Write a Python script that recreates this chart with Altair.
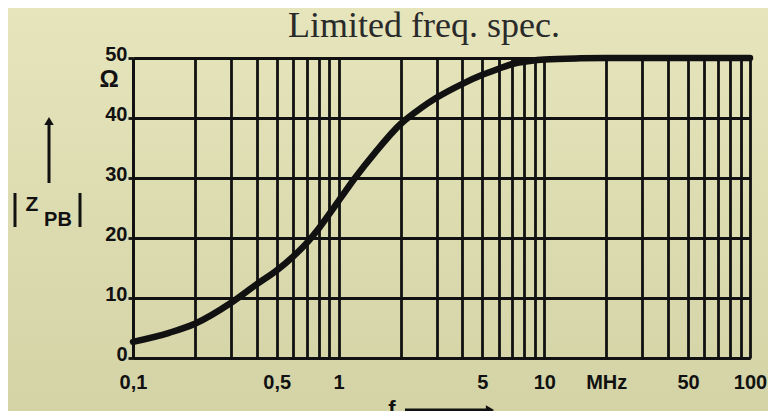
import altair as alt
import pandas as pd

# ---- data ----
freq_mhz = [0.1, 0.15, 0.2, 0.3, 0.4, 0.5, 0.6, 0.7, 0.8, 1.0, 1.2, 1.5, 2.0, 2.5, 3.0,
            4.0, 5.0, 6.0, 7.0, 8.5, 10, 15, 20, 50, 100]
z_pb_ohm = [2.7, 4.2, 5.7, 9.2, 12.3, 14.6, 16.9, 19.2, 21.6, 26.2, 30.0, 34.2, 39.0, 41.6, 43.4,
            45.7, 47.2, 48.2, 49.0, 49.5, 49.75, 49.95, 50, 50, 50]

x_grid = [0.1, 0.2, 0.3, 0.4, 0.5, 0.6, 0.7, 0.8, 0.9,
          1, 2, 3, 4, 5, 6, 7, 8, 9,
          10, 20, 30, 40, 50, 60, 70, 80, 90, 100]
x_label_vals = [0.1, 0.5, 1, 5, 10, 20, 50, 100]
x_label_text = ["0,1", "0,5", "1", "5", "10", "MHz", "50", "100"]
y_ticks = [0, 10, 20, 30, 40, 50]

title_text = "Limited freq. spec."

df = pd.DataFrame({"f": freq_mhz, "z": z_pb_ohm})
ann = pd.DataFrame({"k": [0]})

W, H = 617, 300
INK = "#111111"
SANS = "Liberation Sans"

label_expr = " : ".join(
    f"datum.value == {v} ? '{t}'" for v, t in zip(x_label_vals, x_label_text)
) + " : ''"

xs = alt.X("f:Q",
           scale=alt.Scale(type="log", domain=[0.1, 100], nice=False),
           axis=alt.Axis(values=x_grid, labelExpr=label_expr, title=None, zindex=1,
                         grid=True, gridColor=INK, gridWidth=2.8, gridOpacity=1,
                         ticks=False, labelOverlap=False, labelFlush=False,
                         labelPadding=14, labelFont=SANS, labelFontSize=20,
                         labelFontWeight="bold", labelColor=INK,
                         domainColor=INK, domainWidth=3))
ys = alt.Y("z:Q",
           scale=alt.Scale(domain=[0, 50], nice=False),
           axis=alt.Axis(values=y_ticks, title=None, zindex=1, grid=True, gridColor=INK,
                         gridWidth=2.8, gridOpacity=1, tickSize=5, tickColor=INK,
                         tickWidth=2.8, labelPadding=1, labelOffset=-4,
                         labelFlush=False, labelFont=SANS, labelFontSize=20,
                         labelFontWeight="bold", labelColor=INK,
                         domainColor=INK, domainWidth=3))

bg = alt.Chart(ann).mark_rect(
    fill=alt.Gradient(gradient="linear", x1=0, y1=0, x2=0, y2=1,
                      stops=[alt.GradientStop(color="#e6e5bc", offset=0),
                             alt.GradientStop(color="#d3d3a6", offset=1)])
).encode(x=alt.value(-130), x2=alt.value(W + 20), y=alt.value(-60), y2=alt.value(H + 60))

curve = alt.Chart(df).mark_line(color=INK, strokeWidth=6.5, interpolate="monotone",
                                strokeCap="round").encode(x=xs, y=ys)

title = alt.Chart(ann).mark_text(text=title_text, font="Liberation Serif", fontSize=36,
                                 color="#2a2a2a", baseline="alphabetic", align="center"
                                 ).encode(x=alt.value(291), y=alt.value(-21))

ohm = alt.Chart(ann).mark_text(text="Ω", font=SANS, fontSize=24, fontWeight="bold",
                               color=INK, baseline="middle", align="center"
                               ).encode(x=alt.value(-24), y=alt.value(22))

# y-axis quantity label |Z_PB| with arrow
up_shaft = alt.Chart(ann).mark_rule(color=INK, strokeWidth=3).encode(
    x=alt.value(-84), y=alt.value(64), y2=alt.value(125))
up_head = alt.Chart(ann).mark_point(shape="triangle-up", filled=True, color=INK,
                                    size=90, opacity=1).encode(
    x=alt.value(-84), y=alt.value(63))
bar_l = alt.Chart(ann).mark_rule(color=INK, strokeWidth=3).encode(
    x=alt.value(-118), y=alt.value(135), y2=alt.value(169))
bar_r = alt.Chart(ann).mark_rule(color=INK, strokeWidth=3).encode(
    x=alt.value(-53), y=alt.value(135), y2=alt.value(169))
z_txt = alt.Chart(ann).mark_text(text="Z", font=SANS, fontSize=21, fontWeight="bold",
                                 color=INK, baseline="middle", align="center").encode(
    x=alt.value(-101), y=alt.value(147))
pb_txt = alt.Chart(ann).mark_text(text="PB", font=SANS, fontSize=20, fontWeight="bold",
                                  color=INK, baseline="middle", align="center").encode(
    x=alt.value(-75), y=alt.value(162))

# x-axis quantity label f with arrow
f_txt = alt.Chart(ann).mark_text(text="f", font=SANS, fontSize=22, fontWeight="bold",
                                 color=INK, baseline="alphabetic", align="center").encode(
    x=alt.value(259), y=alt.value(358))
right_shaft = alt.Chart(ann).mark_rule(color=INK, strokeWidth=3).encode(
    x=alt.value(272), x2=alt.value(354), y=alt.value(352))
right_head = alt.Chart(ann).mark_point(shape="triangle-right", filled=True, color=INK,
                                       size=90, opacity=1).encode(
    x=alt.value(357), y=alt.value(352))

chart = alt.layer(
    bg, curve, title, ohm, up_shaft, up_head, bar_l, bar_r, z_txt, pb_txt,
    f_txt, right_shaft, right_head
).properties(
    width=W, height=H,
    padding={"left": 125, "top": 50, "right": 18, "bottom": 53},
    autosize=alt.AutoSizeParams(type="none"),
    background="#dedeb2",
).configure_view(stroke=None)

chart.save("out.html", embed_options={"renderer": "svg", "actions": False})
